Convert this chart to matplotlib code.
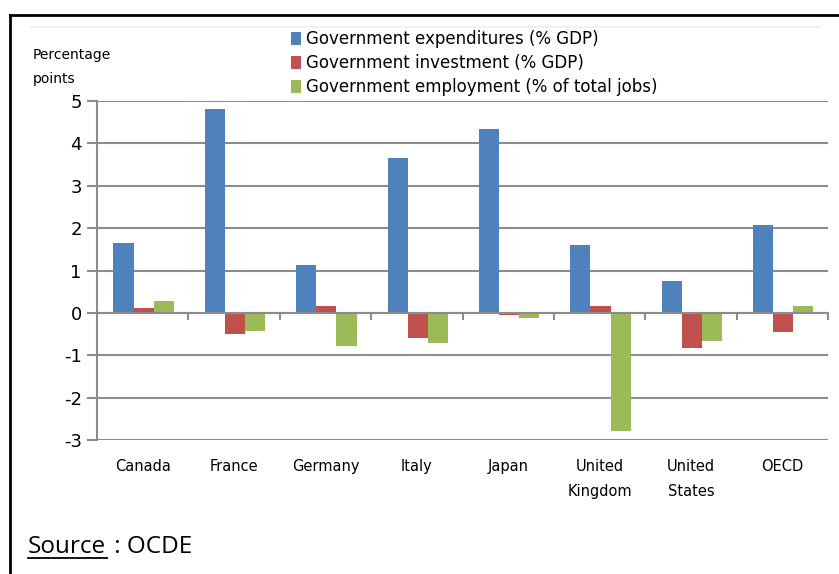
import numpy as np
import matplotlib.pyplot as plt
from matplotlib.lines import Line2D

plt.rcParams['axes.unicode_minus'] = False

countries = ["Canada", "France", "Germany", "Italy", "Japan",
             "United\nKingdom", "United\nStates", "OECD"]
expenditures = [1.64, 4.80, 1.12, 3.65, 4.33, 1.60, 0.75, 2.07]
investment = [0.12, -0.50, 0.17, -0.60, -0.05, 0.17, -0.83, -0.45]
employment = [0.29, -0.43, -0.77, -0.72, -0.12, -2.78, -0.66, 0.17]
labels = ["Government expenditures (% GDP)",
          "Government investment (% GDP)",
          "Government employment (% of total jobs)"]
colors = ["#4F81BD", "#C0504D", "#9BBB59"]

fig = plt.figure(figsize=(8.39, 5.74), dpi=100)
ax = fig.add_axes([97 / 839, 1 - 440 / 574, 731 / 839, 339 / 574])

x = np.arange(len(countries))
w = 0.22
series = [expenditures, investment, employment]
for k, (vals, col, lab) in enumerate(zip(series, colors, labels)):
    ax.bar(x + (k - 1) * w + 0.01, vals, width=w, color=col, label=lab, zorder=3)

ax.set_xlim(-0.5, len(countries) - 0.5)
ax.set_ylim(-3, 5)
ax.set_yticks(range(-3, 6))
ax.yaxis.grid(True, color="#8c8c8c", linewidth=1.5, zorder=0)
for s in ["top", "right", "bottom"]:
    ax.spines[s].set_visible(False)
ax.spines["left"].set_color("#8c8c8c")
ax.spines["left"].set_linewidth(1.5)
ax.tick_params(axis="y", length=7, width=1.5, color="#8c8c8c", labelsize=13, pad=4)
ax.tick_params(axis="x", length=0)
ax.set_xticks(x)
ax.set_xticklabels(countries, fontsize=10.5, linespacing=1.8, va="top")
ax.tick_params(axis="x", pad=14)

# zero line with category boundary ticks
ax.axhline(0, color="#8c8c8c", linewidth=1.5, zorder=4)
for b in np.arange(0.5, len(countries), 1.0):
    ax.plot([b, b], [0, -0.15], color="#8c8c8c", linewidth=1.5, zorder=4, clip_on=False)

fig.legend(loc="upper left", bbox_to_anchor=(283 / 839, 1 - 22 / 574),
           frameon=False, fontsize=12, handlelength=0.6, handleheight=0.8,
           handletextpad=0.3, labelspacing=0.36, borderpad=0)

fig.text(33 / 839, 1 - 67 / 574, "Percentage\npoints", fontsize=10, va="center",
         linespacing=1.9)

# frame and source note
fig.add_artist(Line2D([10 / 839, 10 / 839], [0, 1 - 15 / 574], color="black", lw=2))
fig.add_artist(Line2D([10 / 839, 1], [1 - 15 / 574, 1 - 15 / 574], color="black", lw=2))
fig.add_artist(Line2D([30 / 839, 820 / 839], [1 - 27 / 574, 1 - 27 / 574],
                      color="#e3f4f8", lw=1.2))
fig.text(28 / 839, 1 - 553 / 574, "Source", fontsize=17.5, family="Open Sans", va="baseline")
fig.add_artist(Line2D([28 / 839, 107 / 839], [1 - 558 / 574, 1 - 558 / 574], color="black", lw=1.3))
fig.text(108 / 839, 1 - 553 / 574, " : OCDE", fontsize=17.5, family="Open Sans", va="baseline")

fig.savefig("out.png", dpi=100)
